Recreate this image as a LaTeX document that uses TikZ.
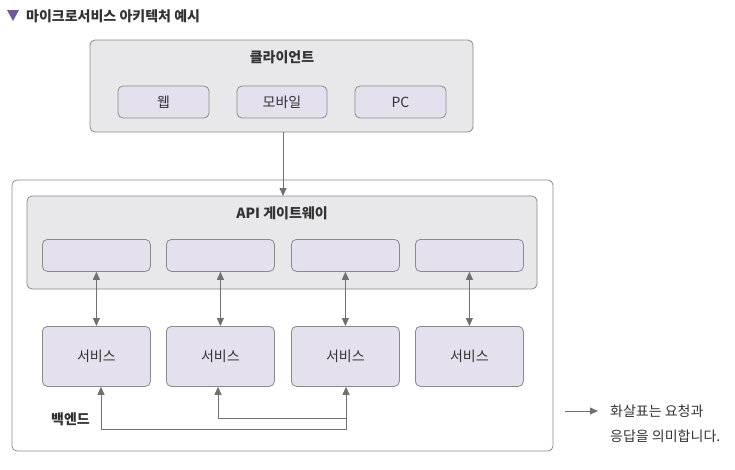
\documentclass[tikz,border=0pt]{standalone}
\usepackage{fontspec}
\setmainfont{Noto Sans CJK KR}
\usetikzlibrary{arrows.meta,calc}
\definecolor{boxgray}{HTML}{E8E8EA}
\definecolor{lav}{HTML}{E4E0EE}
\definecolor{edge}{HTML}{8A8A8A}
\definecolor{txt}{HTML}{333333}
\definecolor{arr}{HTML}{707070}
\definecolor{tri}{HTML}{6E5A9C}
\tikzset{
  x=1pt,y=-1pt,
  panel/.style={draw=edge,line width=0.8pt,fill=boxgray,rounded corners=5pt},
  outer/.style={draw=edge,line width=0.8pt,fill=white,rounded corners=5pt},
  sub/.style={draw=edge,line width=0.8pt,fill=lav,rounded corners=5pt},
  lbl/.style={text=txt,font=\fontsize{14}{16}\selectfont,inner sep=0pt},
  blbl/.style={text=txt,font=\fontsize{14}{16}\selectfont\bfseries,inner sep=0pt},
  tip/.style={Triangle[length=8pt,width=7pt]},
  conn/.style={draw=arr,line width=0.8pt,-{Triangle[length=8pt,width=7pt]}},
  dconn/.style={draw=arr,line width=0.8pt,{Triangle[length=8pt,width=7pt]}-{Triangle[length=8pt,width=7pt]}},
}
\begin{document}
\begin{tikzpicture}
\useasboundingbox (0,0) rectangle (735,469);
% title
\fill[tri] (7,10) -- (19,10) -- (13,21) -- cycle;
\node[blbl,anchor=west] (title) at (26,16) {마이크로서비스 아키텍처 예시};
% client
\draw[panel] (90,40) rectangle (473,132);
\coordinate (clientbot) at (283,132);
\node[blbl] (client) at (282,57) {클라이언트};
\draw[sub] (118,86) rectangle (209,118); \node[lbl] (web) at (163.5,102) {웹};
\draw[sub] (237,86) rectangle (327,118); \node[lbl] (mob) at (282,102) {모바일};
\draw[sub] (355,86) rectangle (446,118); \node[lbl] (pc) at (400.5,102) {PC};
% backend
\draw[outer] (12,180) rectangle (553,451);
\draw[panel] (27,196) rectangle (537,289);
\coordinate (gwtop) at (283,196);
\node[blbl] (gw) at (282,213) {API 게이트웨이};
\draw[conn] (clientbot) -- (gwtop);
\foreach \i/\xa in {1/42,2/166,3/291,4/415}{
  \node[sub,minimum width=108pt,minimum height=32pt,anchor=north west,inner sep=0pt] (g\i) at (\xa,239) {};
  \node[sub,minimum width=108pt,minimum height=60pt,anchor=north west,inner sep=0pt,lbl] (s\i) at (\xa,326) {서비스};
  \draw[dconn] (g\i.south) -- (s\i.north);
}
\node[blbl,anchor=west] (be) at (51,419) {백엔드};
\coordinate (c1) at (101,429);
\coordinate (c3) at (346,429);
\coordinate (c2) at (218,418);
\coordinate (c3b) at (346,418);
\draw[dconn] (s1.south -| c1) -- (c1) -- (c3) -- (s3.south -| c3);
\draw[conn] (c3b) -- (c2) -- (s2.south -| c2);
% legend
\coordinate (la) at (565,411);
\coordinate (lb) at (598,411);
\draw[conn] (la) -- (lb);
\node[lbl,anchor=west] (l1) at (610,411) {화살표는 요청과};
\node[lbl,anchor=west] (l2) at (610,436) {응답을 의미합니다.};
\end{tikzpicture}
\end{document}
